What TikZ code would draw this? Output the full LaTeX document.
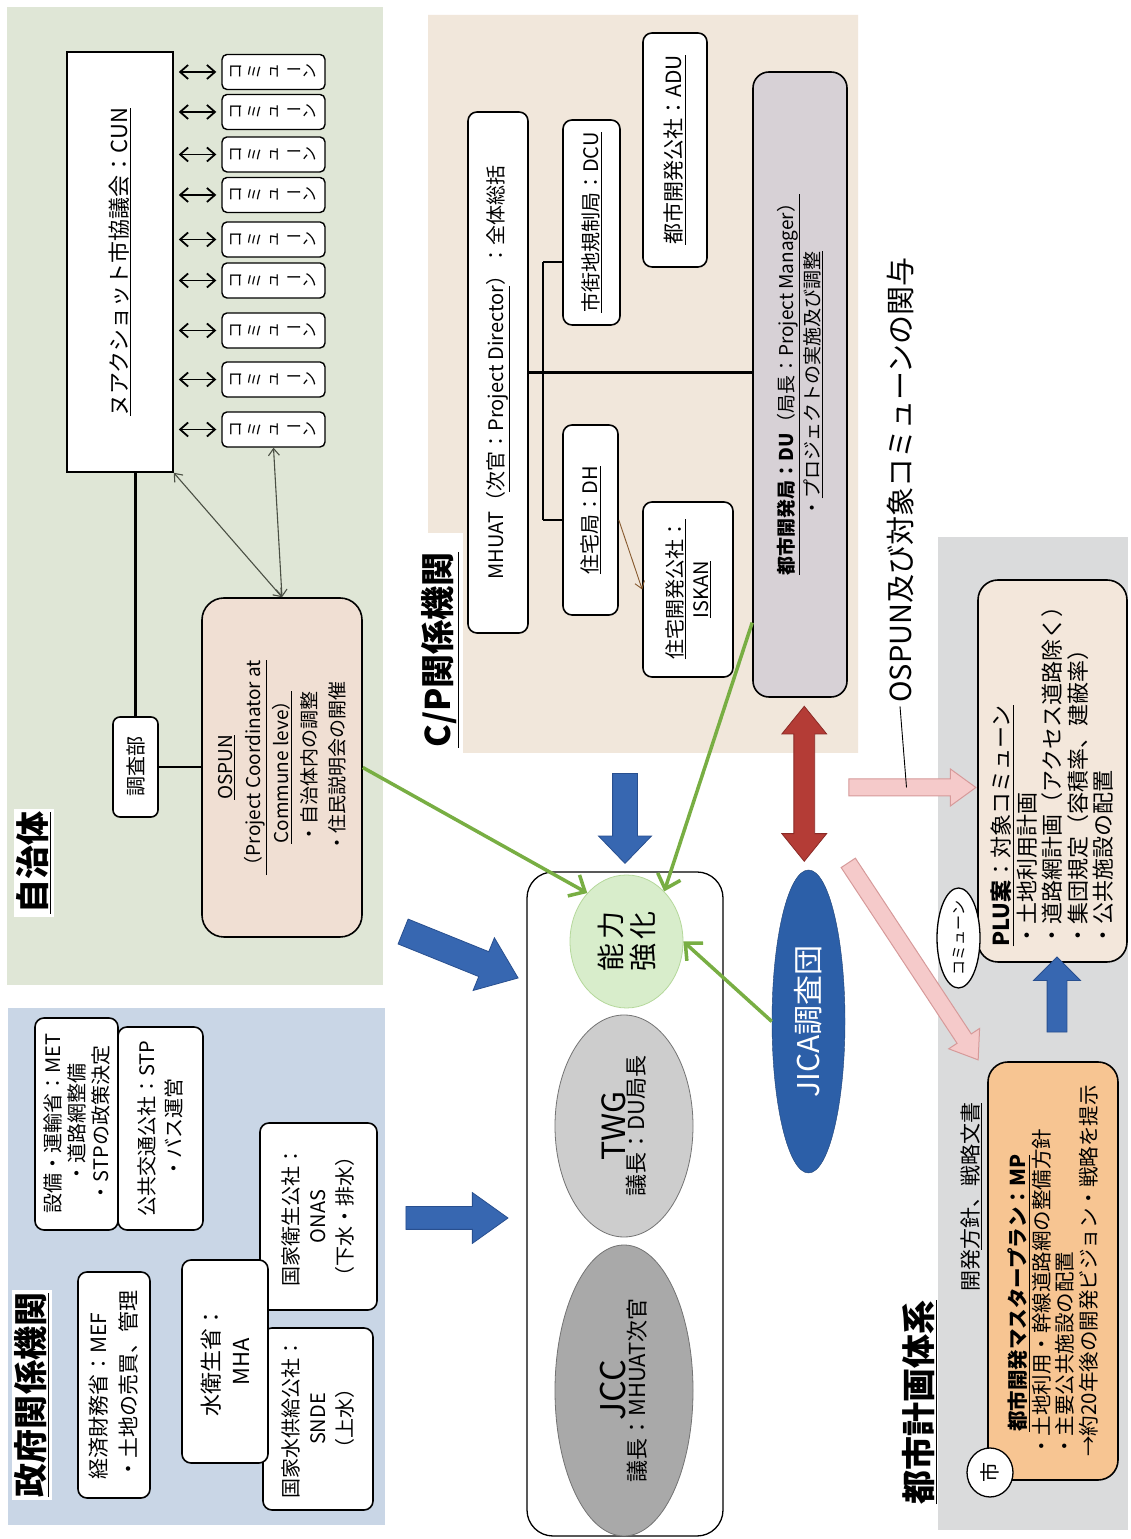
\documentclass[tikz,border=0pt]{standalone}
\usepackage{fontspec}
\setmainfont{Noto Sans CJK JP}
\usepackage{graphicx}
\usetikzlibrary{shapes.geometric,shapes.arrows,arrows.meta,calc}

\definecolor{govbg}{HTML}{C9D6E6}
\definecolor{locbg}{HTML}{DFE6D6}
\definecolor{cpbg}{HTML}{F1E7DB}
\definecolor{urbbg}{HTML}{DADBDC}
\definecolor{ospunfill}{HTML}{F0DFD3}
\definecolor{dufill}{HTML}{D7D1D6}
\definecolor{plufill}{HTML}{F3E7DB}
\definecolor{mpfill}{HTML}{F7C592}
\definecolor{jccfill}{HTML}{A9A9A9}
\definecolor{twgfill}{HTML}{CDCDCD}
\definecolor{jicafill}{HTML}{2C5FA8}
\definecolor{capfill}{HTML}{D8EDCB}
\definecolor{capedge}{HTML}{B5D89B}
\definecolor{bluearr}{HTML}{3767B1}
\definecolor{bluearredge}{HTML}{284F8F}
\definecolor{redarr}{HTML}{B43C36}
\definecolor{redarredge}{HTML}{8A2A26}
\definecolor{pinkarr}{HTML}{F5CACA}
\definecolor{pinkarredge}{HTML}{D69A9A}
\definecolor{greenln}{HTML}{78AE43}
\definecolor{thinln}{HTML}{4A4F44}

\newcommand\fsz[2]{\fontsize{#1}{#2}\selectfont}
\newcommand\vcommune{コ\\ミ\\ュ\\\rotatebox[origin=c]{-90}{ー}\\ン}

\begin{document}
\begin{tikzpicture}[x=1pt, y=1pt,
    orgbox/.style={draw, line width=1.6pt, rounded corners=9pt, fill=white, align=center, inner sep=3pt, font=\fsz{20}{25}},
    paneltitle/.style={font=\fsz{34}{38}\bfseries, inner sep=3pt},
    combox/.style={draw, line width=1.4pt, rounded corners=5pt, fill=white, minimum width=35, minimum height=103, inner sep=0pt, align=center, font=\fsz{16}{18.5}},
    cunlink/.style={<->, >={Straight Barb[length=8pt,width=14pt]}, line width=1.8pt, shorten <=5pt, shorten >=5pt},
    thinlink/.style={<->, >={Straight Barb[length=7pt,width=11pt]}, draw=thinln, line width=1.1pt},
    treeline/.style={line width=2.4pt},
    greenlink/.style={->, >={Straight Barb[length=13pt,width=24pt]}, draw=greenln, line width=3.5pt},
    bluearrow/.style={single arrow, fill=bluearr, draw=bluearredge, line width=0.8pt, inner xsep=0pt},
    pinkarrow/.style={single arrow, fill=pinkarr, draw=pinkarredge, line width=1pt, inner xsep=0pt},
    boardell/.style={ellipse, draw=black!55, line width=0.8pt, align=center}]
\begin{scope}[rotate=90, transform shape]
\useasboundingbox (0,0) rectangle (1539,-1131);
\fill[white] (0,0) rectangle (1539,-1131);

\fill[govbg] (14,-8) rectangle (531,-385);
\fill[locbg] (554,-7) rectangle (1532,-383);
\fill[cpbg] (1524,-428) -- (1524,-858) -- (786,-858) -- (786,-463) -- (1006,-463) -- (1006,-428) -- cycle;
\fill[urbbg] (9,-938) rectangle (1002,-1128);

\node[paneltitle, fill=white] (govtitle) at (144,-32) {\underline{政府関係機関}};
\node[paneltitle, fill=white] (loctitle) at (676,-34) {\underline{自治体}};
\node[paneltitle] (cptitle) at (889,-440) {\underline{C/P関係機関}};
\node[paneltitle] (urbtitle) at (137,-920) {\underline{都市計画体系}};

\node[orgbox, align=left, minimum width=226, minimum height=72, font=\fsz{21}{30}] (mef) at (154,-114) {経済財務省：MEF\\・土地の売買、管理};
\node[orgbox, minimum width=203, minimum height=85, font=\fsz{20}{27}] (stp) at (410.5,-160.5) {公共交通公社：STP\\・バス運営};
\node[orgbox, minimum width=212, minimum height=83, font=\fsz{20}{24}] (met) at (415,-76.5) {設備・運輸省：MET\\・道路網整備\\・STPの政策決定};
\node[orgbox, minimum width=182, minimum height=110, font=\fsz{20}{27}] (snde) at (120,-318) {国家水供給公社：\\SNDE\\（上水）};
\node[orgbox, minimum width=187, minimum height=117, font=\fsz{20}{27}] (onas) at (322.5,-318.5) {国家衛生公社：\\ONAS\\（下水・排水）};
\node[orgbox, minimum width=203, minimum height=86, font=\fsz{22}{30}] (mha) at (177.5,-225) {水衛生省：\\MHA};

\node[draw, line width=1.5pt, fill=white, minimum width=420, minimum height=106, font=\fsz{22}{26}] (cun) at (1277,-120) {\underline{ヌアクショット市協議会：CUN}};
\foreach \cx [count=\i] in {1467,1427,1384.5,1344,1299.5,1258.5,1208.5,1159.5,1109.5}{
  \node[combox] (com\i) at (\cx,-273.5) {\vcommune};
  \draw[cunlink] (com\i.north |- cun.south) -- (com\i.north);
}
\node[orgbox, minimum width=100, minimum height=45, rounded corners=7pt] (research) at (772,-135.5) {調査部};
\node[orgbox, fill=ospunfill, minimum width=339, minimum height=160, rounded corners=22pt, font=\fsz{19}{28}] (ospun) at (771.5,-282)
  {\underline{OSPUN}\\\underline{（Project Coordinator at}\\\underline{Commune leve）}\\・自治体内の調整\\・住民説明会の開催};
\draw[treeline] (research.east) -- (research.east -| cun.west);
\draw[treeline] (research.south) -- (research.south |- ospun.north);
\draw[thinlink] (cun.south west) -- (ospun.east);
\draw[thinlink] (com9.west) -- (ospun.east);

\node[orgbox, minimum width=521, minimum height=60] (mhuat) at (1166.5,-498) {MHUAT（\underline{次官：Project Director}）：全体総括};
\node[orgbox, minimum width=205, minimum height=57] (dcu) at (1316.5,-591.5) {\underline{市街地規制局：DCU}};
\node[orgbox, minimum width=190, minimum height=55] (dh) at (1019,-590.5) {\underline{住宅局：DH}};
\node[orgbox, minimum width=234, minimum height=64, font=\fsz{21}{25}] (adu) at (1389,-675) {\underline{都市開発公社：ADU}};
\node[orgbox, minimum width=175, minimum height=90, font=\fsz{20}{26}] (iskan) at (949.5,-688) {\underline{住宅開発公社：}\\\underline{ISKAN}};
\node[orgbox, fill=dufill, minimum width=625, minimum height=94, rounded corners=16pt, font=\fsz{19}{26}] (du) at (1154.5,-800)
  {\underline{\textbf{都市開発局：DU}（局長：Project Manager）}\\・\underline{プロジェクトの実施及び調整}};
\coordinate (dcujoin) at (1277,-543);
\coordinate (dhjoin) at (1019,-543);
\draw[treeline] (mhuat.south) -- (mhuat.south |- du.north);
\draw[treeline] (dcujoin) -- (dhjoin);
\draw[treeline] (dcujoin) -- (dcujoin |- dcu.north);
\draw[treeline] (dhjoin) -- (dhjoin |- dh.north);
\draw[->, >={Straight Barb[length=7pt,width=10pt]}, draw=brown!70!black, line width=0.9pt] (dh.south) -- (iskan.north);

\node[draw, line width=1.3pt, rounded corners=26pt, minimum width=664, minimum height=196] (councilbox) at (335,-625) {};
\node[boardell, fill=jccfill, minimum width=291, minimum height=138] (jcc) at (148.5,-624) {\fsz{34}{40}JCC\\\fsz{22}{26}議長：MHUAT次官};
\node[boardell, fill=twgfill, minimum width=222, minimum height=138] (twg) at (413,-624) {\fsz{32}{38}TWG\\\fsz{22}{26}議長：DU局長};
\node[ellipse, draw=capedge, line width=0.8pt, fill=capfill, align=center, minimum width=133, minimum height=113, font=\fsz{28}{32}] (capacity) at (597.5,-626.5) {能\hspace{4pt}力\\強\hspace{4pt}化};
\node[ellipse, fill=jicafill, draw=jicafill!70!black, minimum width=303, minimum height=73, text=white, font=\fsz{30}{34}] (jica) at (517.5,-808.5) {JICA調査団};

\node[bluearrow, rotate=-90, minimum height=102, minimum width=50, inner ysep=11pt, single arrow head extend=14pt, single arrow tip angle=71] (govarrow) at (321,-449) {};
\node[bluearrow, rotate=-112, minimum height=124, minimum width=56, inner ysep=13pt, single arrow head extend=15pt, single arrow tip angle=75] (locarrow) at (587.5,-452.5) {};
\node[bluearrow, rotate=180, minimum height=90, minimum width=52, inner ysep=12pt, single arrow head extend=14pt, single arrow tip angle=88] (cparrow) at (727,-625) {};
\node[double arrow, fill=redarr, draw=redarredge, line width=0.8pt, inner xsep=0pt, minimum height=155, minimum width=44, inner ysep=10pt, double arrow head extend=12pt, double arrow tip angle=78] (jicalink) at ($(jica.east)!0.5!(du.west)$) {};
\node[pinkarrow, rotate=-90, minimum height=127, minimum width=36, inner ysep=8pt, single arrow head extend=10pt, single arrow tip angle=72] (pinka) at (751.5,-906.5) {};
\node[pinkarrow, rotate=213.4, minimum height=236, minimum width=36, inner ysep=8pt, single arrow head extend=10pt, single arrow tip angle=72] (pinkb) at (582.5,-910) {};

\draw[greenlink] (ospun.south) -- (capacity.39);
\draw[greenlink] ($(du.north west)!0.12!(du.north east)$) -- (capacity.-37);
\draw[greenlink] (jica.north) -- (capacity.south);

\node[font=\fsz{29}{32}] (involve) at (1059,-900) {OSPUN及び対象コミューンの関与};
\draw[line width=0.9pt] (involve.west) -- (pinka.center);

\node[orgbox, fill=plufill, align=left, minimum width=382, minimum height=149, rounded corners=20pt, font=\fsz{22}{25.5}, inner sep=4pt] (plu) at (768,-1052.5)
  {\underline{\textbf{PLU案}：対象コミューン}\\・土地利用計画\\・道路網計画（アクセス道路除く）\\・集団規定（容積率、建蔽率）\\・公共施設の配置};
\node[ellipse, draw, line width=1.3pt, fill=white, minimum width=100, minimum height=43, inner xsep=-5pt, inner ysep=0pt, font=\fsz{15}{18}] (commune) at (601,-958.5) {コミューン};
\node[orgbox, fill=mpfill, align=left, minimum width=418, minimum height=130, rounded corners=20pt, font=\fsz{20.5}{23.5}] (mp) at (268,-1053)
  {\hspace{25pt}\underline{\textbf{都市開発マスタープラン：MP}}\\・土地利用・幹線道路網の整備方針\\・主要公共施設の配置\\→約20年後の開発ビジョン・戦略を提示};
\node[ellipse, draw, line width=1.3pt, fill=white, minimum width=49, minimum height=46, inner sep=0pt, font=\fsz{20}{22}] (city) at (66.5,-990) {市};
\node[font=\fsz{21}{24}] (mplabel) at (341.5,-971.5) {開発\underline{方針、戦略文書}};
\node[bluearrow, minimum height=75, minimum width=46, inner ysep=9.5pt, single arrow head extend=13.5pt, single arrow tip angle=90] (planarrow) at (539.5,-1057) {};
\end{scope}
\end{tikzpicture}
\end{document}
